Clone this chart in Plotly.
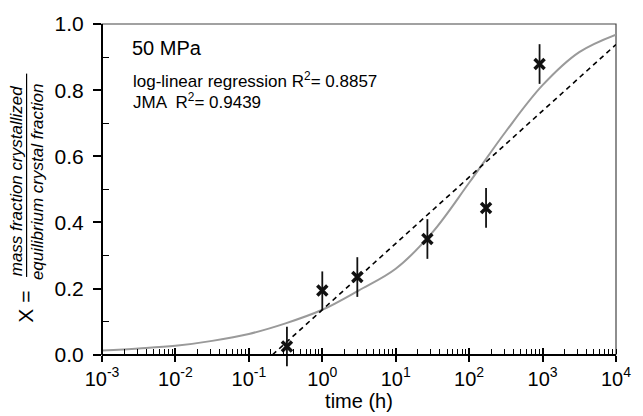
import plotly.graph_objects as go

# ---- data ----
t_obs = [0.33, 1.0, 3.0, 27.0, 170.0, 910.0]
X_obs = [0.025, 0.194, 0.235, 0.350, 0.444, 0.879]
X_err = [0.060, 0.058, 0.060, 0.060, 0.060, 0.060]

# JMA fit curve (read at half-decade steps)
t_jma = [0.001, 0.00316, 0.01, 0.0316, 0.1, 0.316, 1.0, 3.16, 10.0, 31.6, 100.0, 316.0, 1000.0, 3160.0, 10000.0]
X_jma = [0.013, 0.019, 0.027, 0.042, 0.063, 0.095, 0.136, 0.195, 0.260, 0.370, 0.520, 0.675, 0.815, 0.915, 0.968]

# log-linear regression line (end points)
t_fit = [0.21, 10000.0]
X_fit = [0.0, 0.938]

x_tickvals = [0.001, 0.01, 0.1, 1, 10, 100, 1000, 10000]
x_ticktext = ["10<sup>-3</sup>", "10<sup>-2</sup>", "10<sup>-1</sup>", "10<sup>0</sup>",
              "10<sup>1</sup>", "10<sup>2</sup>", "10<sup>3</sup>", "10<sup>4</sup>"]
y_tickvals = [0.0, 0.2, 0.4, 0.6, 0.8, 1.0]

FONT = "Liberation Sans, Arial, Helvetica, sans-serif"

# ---- layout geometry (pixels) ----
W, H = 643, 416
L, R, T = 102, 620, 22          # plot left/right/top
Y0PIX = 362                      # pixel of y = 0
YMIN = -0.04                     # small room below y=0 so the first error bar shows below the axis
PIX_PER_UNIT = (Y0PIX - T) / 1.0
BOTTOM = Y0PIX - YMIN * PIX_PER_UNIT
AX_POS = (-YMIN) / (1.0 - YMIN)  # paper position of y = 0


def px(xp):
    return (xp - L) / (R - L)


def py(yp):
    return (BOTTOM - yp) / (BOTTOM - T)


fig = go.Figure()
fig.add_trace(go.Scatter(x=t_jma, y=X_jma, mode="lines", line=dict(color="#9a9a9a", width=2, shape="spline"),
                         hoverinfo="skip", showlegend=False))
fig.add_trace(go.Scatter(x=t_fit, y=X_fit, mode="lines", line=dict(color="black", width=1.6, dash="5px,4px"),
                         showlegend=False))
fig.add_trace(go.Scatter(x=t_obs, y=X_obs, mode="markers",
                         marker=dict(symbol="x-thin", size=10, line=dict(color="#111", width=3.5), color="#111"),
                         error_y=dict(type="data", array=X_err, visible=True, color="#111", thickness=1.8, width=0),
                         cliponaxis=False, showlegend=False))
# overlay axis to draw the inward half of the major x ticks
fig.add_trace(go.Scatter(x=[1], y=[None], xaxis="x2", mode="markers", showlegend=False, hoverinfo="skip"))

fig.update_layout(
    width=W, height=H,
    margin=dict(l=L, r=W - R, t=T, b=H - BOTTOM),
    paper_bgcolor="white", plot_bgcolor="white",
    font=dict(family=FONT, color="black", size=20),
    xaxis=dict(type="log", range=[-3, 4], tickvals=x_tickvals, ticktext=x_ticktext,
               anchor="free", position=AX_POS,
               ticks="outside", ticklen=6, tickwidth=1.5, tickcolor="black",
               showline=True, linecolor="black", linewidth=2, showgrid=False, zeroline=False,
               tickfont=dict(size=20),
               minor=dict(ticks="inside", ticklen=5, tickwidth=1, tickcolor="black", dtick="D1", showgrid=False),
               title=dict(text="time (h)", font=dict(size=20), standoff=0)),
    xaxis2=dict(type="log", range=[-3, 4], overlaying="x", anchor="free", position=AX_POS, side="bottom",
                tickvals=x_tickvals, showticklabels=False, ticks="inside", ticklen=7, tickwidth=1.5,
                tickcolor="black", showline=False, showgrid=False, zeroline=False),
    yaxis=dict(range=[YMIN, 1], tickvals=y_tickvals, tickformat=".1f",
               ticks="outside", ticklen=8, tickwidth=1.5, tickcolor="black", ticklabelstandoff=5,
               showline=False, showgrid=False, zeroline=False,
               tickfont=dict(size=21),
               minor=dict(ticks="inside", ticklen=7, tickwidth=1, tickcolor="black",
                          tickvals=[0.1, 0.3, 0.5, 0.7, 0.9], showgrid=False)),
    shapes=[
        # frame (top/right) and left axis line
        dict(type="rect", xref="x domain", yref="y domain", x0=0, x1=1, y0=AX_POS, y1=1,
             line=dict(color="#444", width=1.2), layer="below"),
        dict(type="line", xref="x domain", yref="y domain", x0=0, x1=0, y0=AX_POS, y1=1,
             line=dict(color="black", width=2), layer="above"),
        # fraction bar of the y-axis label
        dict(type="line", xref="paper", yref="paper", x0=px(26), x1=px(26), y0=py(282), y1=py(73),
             line=dict(color="black", width=1.2)),
    ],
    annotations=[
        dict(text="50 MPa", xref="paper", yref="paper", x=px(130), y=py(47),
             xanchor="left", yanchor="middle", showarrow=False, font=dict(size=20)),
        dict(text="log-linear regression R<sup>2</sup>= 0.8857", xref="paper", yref="paper",
             x=px(131), y=py(80), xanchor="left", yanchor="middle", showarrow=False,
             font=dict(size=17)),
        dict(text="JMA  R<sup>2</sup>= 0.9439", xref="paper", yref="paper",
             x=px(131), y=py(101), xanchor="left", yanchor="middle", showarrow=False,
             font=dict(size=17)),
        dict(text="X =", xref="paper", yref="paper", x=px(24), y=py(313),
             textangle=-90, xanchor="center", yanchor="middle", showarrow=False, font=dict(size=21)),
        dict(text="<i>mass fraction crystallized</i>", xref="paper", yref="paper", x=px(16),
             y=py(184), textangle=-90, xanchor="center", yanchor="middle", showarrow=False,
             font=dict(size=17)),
        dict(text="<i>equilibrium crystal fraction</i>", xref="paper", yref="paper", x=px(37),
             y=py(184), textangle=-90, xanchor="center", yanchor="middle", showarrow=False,
             font=dict(size=17)),
    ],
)

fig.write_html("out.html", config={"displayModeBar": False},
               post_script="document.body.style.margin='0';")
